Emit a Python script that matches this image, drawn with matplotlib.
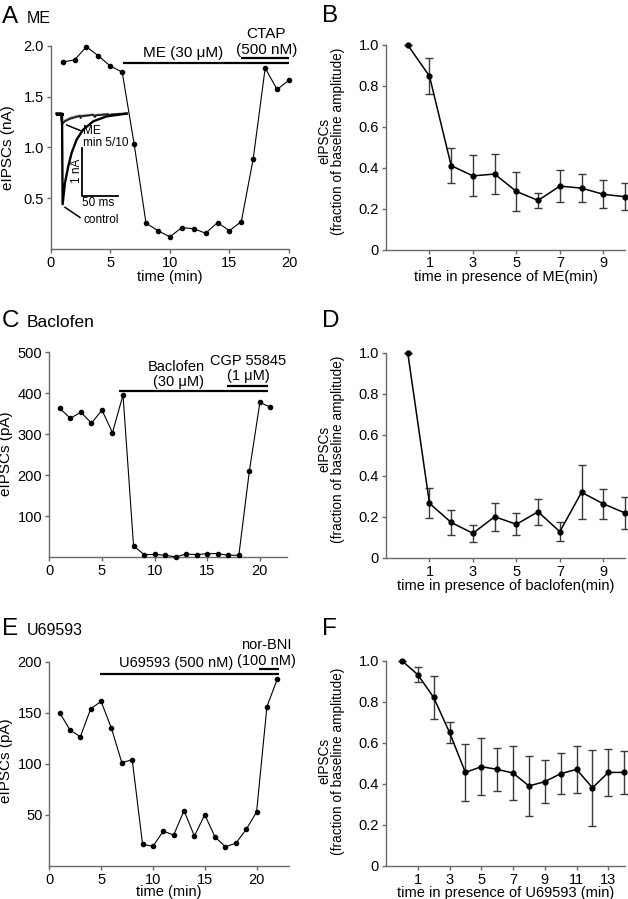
from matplotlib import pyplot
import numpy as np

pyplot.rcParams['font.family'] = ['Liberation Sans', 'DejaVu Sans']

FIG_W = 628.0
FIG_H = 899.0
SPINE = '#6a6a6a'

# --- panel A: ME time course (nA)
a_time = list(range(1, 21))
a_amp = [1.84, 1.86, 1.99, 1.90, 1.80, 1.74, 1.035, 0.255, 0.18, 0.12,
         0.21, 0.20, 0.155, 0.26, 0.18, 0.27, 0.89, 1.78, 1.57, 1.66]
a_me_period = [6.1, 20.0]
a_ctap_period = [16.0, 20.0]

# inset traces (drawn in panel A data units)
ctrl_t = [0.5, 0.95, 1.0, 1.2, 1.48, 1.76, 2.18, 2.73, 3.57, 4.69, 6.37]
ctrl_i = [1.332, 1.332, 0.441, 0.653, 0.816, 0.947, 1.077, 1.175, 1.256, 1.305, 1.332]
me_t = [0.5, 0.84, 0.95, 1.2, 1.62, 2.18, 2.46, 2.51, 2.6, 3.57, 3.71, 3.8, 4.83, 4.97, 5.06, 6.37]
me_i = [1.332, 1.332, 1.234, 1.257, 1.280, 1.299, 1.309, 1.289, 1.306, 1.319, 1.299, 1.315,
        1.325, 1.306, 1.322, 1.332]
me2_i = [1.332, 1.332, 1.225, 1.262, 1.288, 1.306, 1.313, 1.292, 1.310, 1.322, 1.302, 1.318,
         1.327, 1.309, 1.324, 1.334]

# --- panel B: ME summary
b_time = list(range(0, 11))
b_frac = [1.0, 0.848, 0.41, 0.36, 0.369, 0.284, 0.24, 0.31, 0.30, 0.27, 0.258]
b_err = [0.0, 0.09, 0.085, 0.10, 0.10, 0.095, 0.038, 0.078, 0.067, 0.068, 0.065]

# --- panel C: baclofen time course (pA)
c_time = list(range(1, 22))
c_amp = [363, 339, 354, 327, 359, 304, 396, 28, 6.5, 7, 5, 1, 8, 6.5, 9, 9,
         5, 5, 211, 378, 366]
c_bac_period = [6.64, 20.72]
c_cgp_period = [16.84, 20.72]

# --- panel D: baclofen summary
d_time = list(range(0, 11))
d_frac = [1.0, 0.265, 0.172, 0.119, 0.20, 0.163, 0.224, 0.127, 0.319, 0.263, 0.218]
d_err = [0.0, 0.073, 0.06, 0.04, 0.068, 0.053, 0.064, 0.047, 0.132, 0.074, 0.077]

# --- panel E: U69593 time course (pA)
e_time = list(range(1, 23))
e_amp = [150, 133, 126.5, 154, 161, 134.6, 101, 104, 21, 19, 34, 30, 54, 29,
         50, 28, 18.6, 22, 35.6, 52.6, 156, 183]
e_u69_period = [4.94, 22.19]
e_bni_period = [20.26, 22.19]

# --- panel F: U69593 summary
f_time = list(range(0, 15))
f_frac = [1.0, 0.932, 0.821, 0.65, 0.455, 0.483, 0.47, 0.452, 0.389, 0.41,
          0.449, 0.47, 0.38, 0.455, 0.455]
f_err = [0.0, 0.035, 0.103, 0.052, 0.14, 0.14, 0.106, 0.131, 0.146, 0.106,
         0.10, 0.113, 0.185, 0.114, 0.103]


def add_axes_px(fig, left, right, top, bottom):
	return fig.add_axes([left/FIG_W, 1 - bottom/FIG_H, (right - left)/FIG_W, (bottom - top)/FIG_H])


def style_axes(ax):
	for side in ['top', 'right']:
		ax.spines[side].set_visible(False)
	for side in ['left', 'bottom']:
		ax.spines[side].set_color(SPINE)
		ax.spines[side].set_linewidth(1.0)
	ax.tick_params(direction='out', length=3, width=1, color=SPINE, labelsize=10.5, pad=2)


def time_course(ax, t, y):
	ax.plot(t, y, color='k', lw=0.8, marker='o', markersize=3, clip_on=False, zorder=3)


def summary(ax, t, y, err, xlabel, ylab_y, xpad=0):
	ax.errorbar(t, y, yerr=err, color='k', lw=1.1, marker='o', markersize=3.5,
		ecolor='#3a3a3a', elinewidth=1, capsize=3, capthick=1, clip_on=False, zorder=3)
	ax.set_ylim(0, 1.0)
	ax.set_yticks([0, 0.2, 0.4, 0.6, 0.8, 1.0])
	ax.set_yticklabels(['0', '0.2', '0.4', '0.6', '0.8', '1.0'])
	ax.set_ylabel('eIPSCs\n(fraction of baseline amplitude)', fontsize=9.8, linespacing=0.95)
	# label x is the right edge of the rotated text
	ax.yaxis.set_label_coords(-0.172, ylab_y)
	ax.set_xlabel(xlabel, fontsize=10.5, labelpad=xpad)


def drug_bar(ax, period, y):
	ax.plot(period, [y, y], color='k', lw=1.6, clip_on=False, solid_capstyle='butt')


fig = pyplot.figure(figsize=(6.28, 8.99), dpi=100)

# panel A
ax1 = add_axes_px(fig, 50.7, 289, 45.7, 249)
style_axes(ax1)
time_course(ax1, a_time, a_amp)
ax1.set_xlim(0, 20)
ax1.set_ylim(0, 2.0)
ax1.set_xticks([0, 5, 10, 15, 20])
ax1.set_yticks([0.5, 1.0, 1.5, 2.0])
ax1.set_xlabel('time (min)', fontsize=10.5, labelpad=0)
ax1.set_ylabel('eIPSCs (nA)', fontsize=11)
ax1.yaxis.set_label_coords(-0.15, 0.5)
drug_bar(ax1, a_me_period, 1.834)
drug_bar(ax1, a_ctap_period, 1.877)
ax1.text(11.1, 1.925, 'ME (30 \u03bcM)', ha='center', va='center', fontsize=11, clip_on=False)
ax1.text(18.1, 2.12, 'CTAP', ha='center', va='center', fontsize=11, clip_on=False)
ax1.text(18.1, 1.958, '(500 nM)', ha='center', va='center', fontsize=11, clip_on=False)
# inset
ax1.plot(me_t, me2_i, color='#7a7a7a', lw=1.6)
ax1.plot(me_t, me_i, color='#222222', lw=1.3)
ax1.plot(ctrl_t, ctrl_i, color='k', lw=1.7)
ax1.plot([0.5, 0.95], [1.332, 1.332], color='k', lw=2.2)
ax1.plot([2.6, 2.6, 5.67], [0.996, 0.52, 0.52], color='k', lw=1.3)
ax1.text(2.2, 0.77, '1 nA', rotation=90, ha='center', va='center', fontsize=8.5)
ax1.text(4.0, 0.455, '50 ms', ha='center', va='center', fontsize=8.5)
ax1.plot([1.34, 2.6], [1.22, 1.16], color='k', lw=1.1)
ax1.text(2.73, 1.16, 'ME', ha='left', va='center', fontsize=8.5)
ax1.text(2.73, 1.045, 'min 5/10', ha='left', va='center', fontsize=8.5)
ax1.plot([1.2, 2.46], [0.41, 0.31], color='k', lw=1.1)
ax1.text(2.73, 0.29, 'control', ha='left', va='center', fontsize=8.5)

# panel B
ax2 = add_axes_px(fig, 386, 625, 45, 249.5)
style_axes(ax2)
summary(ax2, b_time, b_frac, b_err, 'time in presence of ME(min)', 0.53)
ax2.set_xlim(-1, 10)
ax2.set_xticks([1, 3, 5, 7, 9])

# panel C
ax3 = add_axes_px(fig, 49.3, 287.3, 352.3, 557.3)
style_axes(ax3)
time_course(ax3, c_time, c_amp)
ax3.set_xlim(0, 22.6)
ax3.set_ylim(0, 500)
ax3.set_xticks([0, 5, 10, 15, 20])
ax3.set_yticks([100, 200, 300, 400, 500])
ax3.set_ylabel('eIPSCs (pA)', fontsize=11)
ax3.yaxis.set_label_coords(-0.151, 0.506)
drug_bar(ax3, c_bac_period, 406)
drug_bar(ax3, c_cgp_period, 418)
ax3.text(12.04, 465, 'Baclofen', ha='center', va='center', fontsize=10.5, clip_on=False)
ax3.text(12.25, 427, '(30 \u03bcM)', ha='center', va='center', fontsize=10.5, clip_on=False)
ax3.text(18.88, 479, 'CGP 55845', ha='center', va='center', fontsize=10.5, clip_on=False)
ax3.text(18.88, 442, '(1 \u03bcM)', ha='center', va='center', fontsize=10.5, clip_on=False)

# panel D
ax4 = add_axes_px(fig, 386, 625, 352.7, 557.7)
style_axes(ax4)
summary(ax4, d_time, d_frac, d_err, 'time in presence of baclofen(min)', 0.53)
ax4.set_xlim(-1, 10)
ax4.set_xticks([1, 3, 5, 7, 9])

# panel E
ax5 = add_axes_px(fig, 49.3, 288.7, 661.7, 865.7)
style_axes(ax5)
time_course(ax5, e_time, e_amp)
ax5.set_xlim(0, 23.1)
ax5.set_ylim(0, 200)
ax5.set_xticks([0, 5, 10, 15, 20])
ax5.set_yticks([50, 100, 150, 200])
ax5.set_xlabel('time (min)', fontsize=10.5, labelpad=-1)
ax5.set_ylabel('eIPSCs (pA)', fontsize=11)
ax5.yaxis.set_label_coords(-0.151, 0.515)
drug_bar(ax5, e_u69_period, 188)
drug_bar(ax5, e_bni_period, 192.8)
ax5.text(12.26, 198.4, 'U69593 (500 nM)', ha='center', va='center', fontsize=10.5, clip_on=False)
ax5.text(20.97, 216, 'nor-BNI', ha='center', va='center', fontsize=10.5, clip_on=False)
ax5.text(20.97, 200.7, '(100 nM)', ha='center', va='center', fontsize=10.5, clip_on=False)

# panel F
ax6 = add_axes_px(fig, 386, 625, 660.7, 865.7)
style_axes(ax6)
summary(ax6, f_time, f_frac, f_err, 'time in presence of U69593 (min)', 0.51, xpad=-0.5)
ax6.set_xlim(-1, 14.05)
ax6.set_xticks([1, 3, 5, 7, 9, 11, 13])

# panel letters and titles
def panel_label(x, y, letter, title=None, title_size=11.5):
	fig.text(x/FIG_W, 1 - y/FIG_H, letter, fontsize=17.5, va='baseline', ha='left')
	if title:
		fig.text((x + 25)/FIG_W, 1 - y/FIG_H, title, fontsize=title_size, va='baseline', ha='left')

panel_label(2, 23.3, 'A', 'ME', 11.5)
panel_label(322, 21.7, 'B')
panel_label(2, 326.7, 'C', 'Baclofen', 12.5)
panel_label(322, 326.7, 'D')
panel_label(2, 635, 'E', 'U69593', 11.5)
panel_label(322, 635, 'F')

pyplot.savefig('out.png', dpi=100)
